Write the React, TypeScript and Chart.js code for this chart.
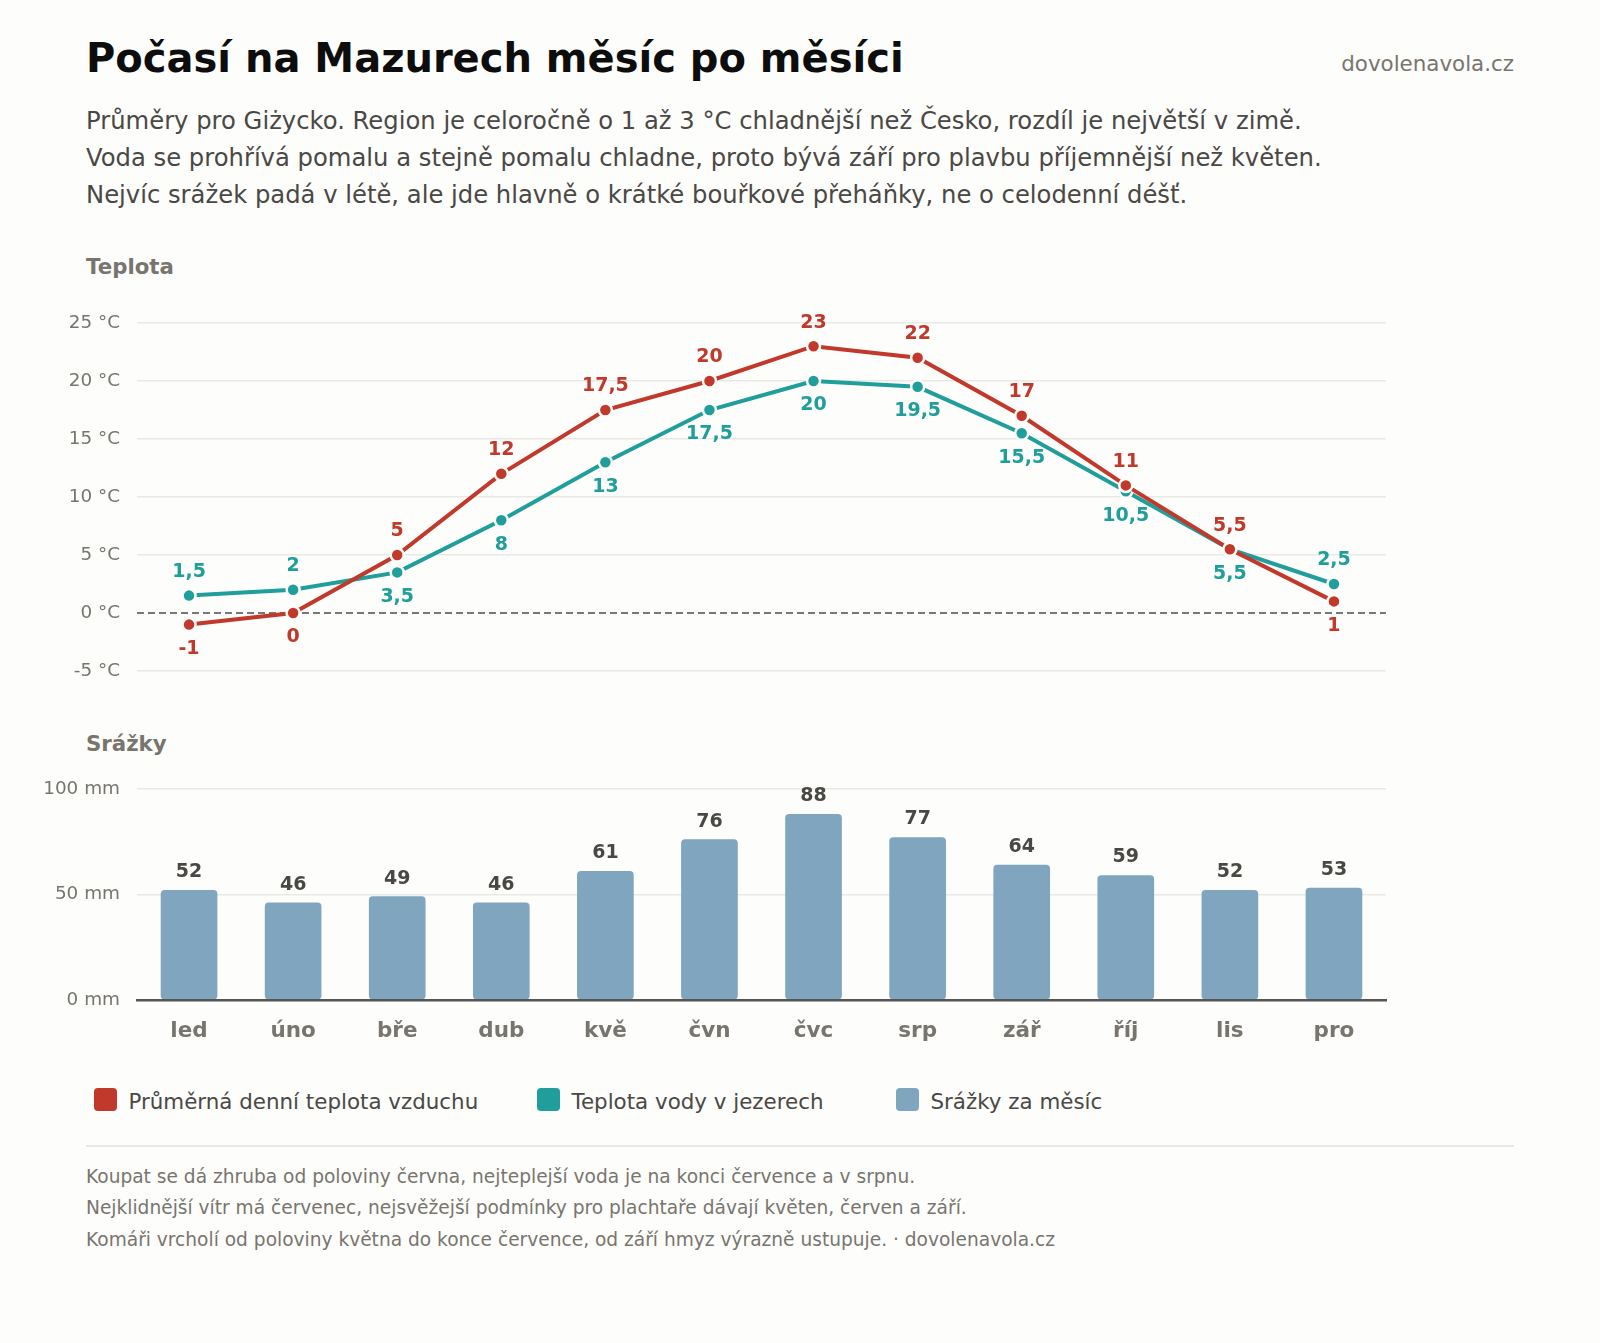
import React, { useEffect, useRef } from "react";
import Chart from "chart.js/auto";

const months = ["led", "úno", "bře", "dub", "kvě", "čvn", "čvc", "srp", "zář", "říj", "lis", "pro"];
const airTemp = [-1, 0, 5, 12, 17.5, 20, 23, 22, 17, 11, 5.5, 1];
const waterTemp = [1.5, 2, 3.5, 8, 13, 17.5, 20, 19.5, 15.5, 10.5, 5.5, 2.5];
const rain = [52, 46, 49, 46, 61, 76, 88, 77, 64, 59, 52, 53];

const seriesNames = ["Průměrná denní teplota vzduchu", "Teplota vody v jezerech", "Srážky za měsíc"];
const introLines = [
    "Průměry pro Giżycko. Region je celoročně o 1 až 3 °C chladnější než Česko, rozdíl je největší v zimě.",
    "Voda se prohřívá pomalu a stejně pomalu chladne, proto bývá září pro plavbu příjemnější než květen.",
    "Nejvíc srážek padá v létě, ale jde hlavně o krátké bouřkové přeháňky, ne o celodenní déšť.",
];
const footLines = [
    "Koupat se dá zhruba od poloviny června, nejteplejší voda je na konci července a v srpnu.",
    "Nejklidnější vítr má červenec, nejsvěžejší podmínky pro plachtaře dávají květen, červen a září.",
    "Komáři vrcholí od poloviny května do konce července, od září hmyz výrazně ustupuje. · dovolenavola.cz",
];

const FONT = '"DejaVu Sans"';
const RED = "#c0392b";
const TEAL = "#1f9e9c";
const BLUE = "#7fa5bf";
const DARK = "#4a4845";
const MUTED = "#78756f";
const GRID = "#e9e9e4";
const BG = "#fdfdfb";

const fmt = (v: number) => String(v).replace(".", ",");

// hodnoty teplot: kdo je výš, má popisek nad bodem
const tempLabels = {
    id: "tempLabels",
    afterDatasetsDraw(chart: any) {
        const ctx = chart.ctx;
        ctx.save();
        ctx.font = `bold 19px ${FONT}`;
        ctx.textAlign = "center";
        ctx.textBaseline = "middle";
        chart.data.datasets.forEach((ds: any, i: number) => {
            const other = chart.data.datasets[1 - i].data;
            chart.getDatasetMeta(i).data.forEach((pt: any, j: number) => {
                const above = i === 0 ? ds.data[j] >= other[j] : ds.data[j] > other[j];
                ctx.fillStyle = ds.borderColor;
                ctx.fillText(fmt(ds.data[j]), pt.x, pt.y + (above ? -23.5 : 24.5));
            });
        });
        ctx.restore();
    },
};

const rainLabels = {
    id: "rainLabels",
    afterDatasetsDraw(chart: any) {
        const ctx = chart.ctx;
        ctx.save();
        ctx.font = `bold 19px ${FONT}`;
        ctx.textAlign = "center";
        ctx.textBaseline = "middle";
        ctx.fillStyle = DARK;
        chart.getDatasetMeta(0).data.forEach((bar: any, j: number) => {
            ctx.fillText(String(rain[j]), bar.x, bar.y - 18);
        });
        ctx.restore();
    },
};

const text = (top: number, size: number, color: string, extra: React.CSSProperties = {}): React.CSSProperties => ({
    position: "absolute",
    left: 86,
    top,
    fontSize: size,
    lineHeight: "30px",
    color,
    whiteSpace: "nowrap",
    ...extra,
});

const App = () => {
    const tempRef = useRef<HTMLCanvasElement>(null);
    const rainRef = useRef<HTMLCanvasElement>(null);

    useEffect(() => {
        if (!tempRef.current || !rainRef.current) return;

        const tempChart = new Chart(tempRef.current, {
            type: "line",
            data: {
                labels: months,
                datasets: [
                    { label: seriesNames[0], data: airTemp, borderColor: RED, backgroundColor: RED, pointBackgroundColor: RED, pointBorderColor: BG },
                    { label: seriesNames[1], data: waterTemp, borderColor: TEAL, backgroundColor: TEAL, pointBackgroundColor: TEAL, pointBorderColor: BG },
                ],
            },
            options: {
                animation: false,
                responsive: false,
                layout: { padding: { top: 43, bottom: 49, right: 214 } },
                elements: {
                    line: { borderWidth: 4, tension: 0 },
                    point: { radius: 6.5, borderWidth: 2.5 },
                },
                plugins: { legend: { display: false }, tooltip: { enabled: false } },
                scales: {
                    x: { display: false, offset: true },
                    y: {
                        min: -5,
                        max: 25,
                        afterFit: (axis: any) => {
                            axis.width = 137;
                        },
                        border: {
                            display: false,
                            dash: (c: any) => (c.tick?.value === 0 ? [7, 4] : []),
                        },
                        grid: {
                            drawTicks: false,
                            color: (c: any) => (c.tick?.value === 0 ? "#777777" : GRID),
                            lineWidth: (c: any) => (c.tick?.value === 0 ? 2 : 1.5),
                        },
                        ticks: {
                            stepSize: 5,
                            padding: 17,
                            color: MUTED,
                            font: { family: FONT, size: 18.4 },
                            callback: (v: any) => `${v} °C`,
                        },
                    },
                },
            },
            plugins: [tempLabels],
        });

        const rainChart = new Chart(rainRef.current, {
            type: "bar",
            data: {
                labels: months,
                datasets: [
                    {
                        label: seriesNames[2],
                        data: rain,
                        backgroundColor: BLUE,
                        barThickness: 56,
                        borderRadius: 4,
                        borderSkipped: false,
                    },
                ],
            },
            options: {
                animation: false,
                responsive: false,
                layout: { padding: { top: 49, right: 214 } },
                plugins: { legend: { display: false }, tooltip: { enabled: false } },
                scales: {
                    x: {
                        afterFit: (axis: any) => {
                            axis.height = 60;
                        },
                        border: { color: "#555555", width: 2.5, z: 1 },
                        grid: { display: false },
                        ticks: {
                            padding: 11,
                            color: MUTED,
                            autoSkip: false,
                            maxRotation: 0,
                            font: { family: FONT, size: 21.5, weight: "bold" },
                        },
                    },
                    y: {
                        min: 0,
                        max: 100,
                        afterFit: (axis: any) => {
                            axis.width = 137;
                        },
                        border: { display: false },
                        grid: { drawTicks: false, color: GRID, lineWidth: 1.5 },
                        ticks: {
                            stepSize: 50,
                            padding: 17,
                            color: MUTED,
                            font: { family: FONT, size: 18.4 },
                            callback: (v: any) => `${v} mm`,
                        },
                    },
                },
            },
            plugins: [rainLabels],
        });

        return () => {
            tempChart.destroy();
            rainChart.destroy();
        };
    }, []);

    const legendColors = [RED, TEAL, BLUE];
    const legendX = [94, 537, 896];

    return (
        <div
            style={{
                position: "absolute",
                left: 0,
                top: 0,
                width: 1600,
                height: 1343,
                overflow: "hidden",
                background: BG,
                fontFamily: FONT,
            }}
        >
            <div style={text(43, 40, "#0d0d0d", { fontWeight: "bold" })}>Počasí na Mazurech měsíc po měsíci</div>
            <div style={text(49, 21.4, MUTED, { left: "auto", right: 86 })}>dovolenavola.cz</div>
            {introLines.map((line, i) => (
                <div key={i} style={text(105.6 + i * 37.2, 24.28, DARK)}>
                    {line}
                </div>
            ))}
            <div style={text(252, 21.3, MUTED, { fontWeight: "bold" })}>Teplota</div>
            <div style={text(729, 21.3, MUTED, { fontWeight: "bold" })}>Srážky</div>

            <canvas ref={tempRef} width={1600} height={440} style={{ position: "absolute", left: 0, top: 280 }} />
            <canvas ref={rainRef} width={1600} height={320} style={{ position: "absolute", left: 0, top: 740 }} />

            {seriesNames.map((name, i) => (
                <React.Fragment key={name}>
                    <div
                        style={{
                            position: "absolute",
                            left: legendX[i],
                            top: 1088,
                            width: 23,
                            height: 23,
                            borderRadius: 4,
                            background: legendColors[i],
                        }}
                    />
                    <div style={text(1087, 21.4, DARK, { left: legendX[i] + 34.5 })}>{name}</div>
                </React.Fragment>
            ))}

            <div style={{ position: "absolute", left: 86, top: 1145, width: 1428, height: 1.5, background: GRID }} />
            {footLines.map((line, i) => (
                <div key={i} style={text(1162 + i * 31.4, 18.6, MUTED)}>
                    {line}
                </div>
            ))}
        </div>
    );
};

export default App;
